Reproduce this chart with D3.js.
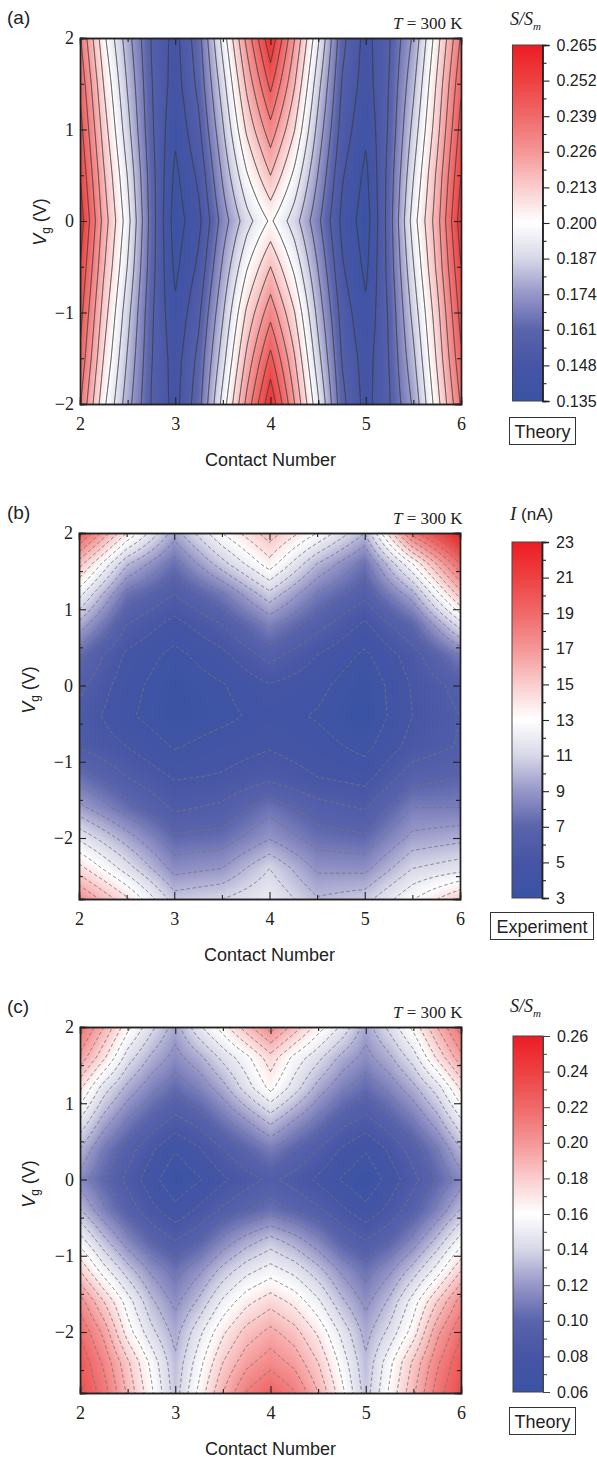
<!DOCTYPE html>
<html>
<head>
<meta charset="utf-8">
<style>
  html, body { margin: 0; padding: 0; background: #fff; }
  svg { display: block; }
  .serif { font-family: "Liberation Serif", serif; }
  .sans { font-family: "Liberation Sans", Arial, sans-serif; }
</style>
<script src="https://cdn.jsdelivr.net/npm/d3@7"></script>
</head>
<body>
<div class="page"></div>
<script>
const contactTicks = [2, 3, 4, 5, 6];
const contactMinor = [2.5, 3.5, 4.5, 5.5];
const vgTicksA = [-2, -1, 0, 1, 2];
const vgMinorA = [-1.5, -0.5, 0.5, 1.5];
const vgTicksB = [-2, -1, 0, 1, 2];
const vgMinorB = [-2.5, -1.5, -0.5, 0.5, 1.5];

// colour map, position 0 = bottom, 1 = top
const colorPos = [0, 0.1, 0.2, 0.3, 0.4, 0.5, 0.6, 0.7, 0.8, 0.9, 1];
const colorVals = ['#3a53a4', '#4655a5', '#5a64ac', '#9696c8', '#d7d7e8', '#ffffff', '#facdcd', '#f59696', '#f06969', '#ee4141', '#ed1c24'];

// panel (a)
const contactsA = [2, 2.25, 2.5, 2.75, 3, 3.25, 3.5, 3.75, 4, 4.25, 4.5, 4.75, 5, 5.25, 5.5, 5.75, 6];
const vgA = [2, 1.5, 1, 0.5, 0, -0.5, -1, -1.5, -2];
const gridA = [
  [.235, .202, .178, .157, .146, .163, .195, .228, .258, .226, .193, .160, .146, .157, .176, .205, .235],
  [.241, .208, .182, .158, .145, .160, .188, .219, .245, .218, .186, .157, .145, .158, .181, .210, .241],
  [.246, .213, .186, .159, .142, .156, .182, .210, .231, .209, .180, .154, .142, .159, .186, .214, .246],
  [.251, .218, .191, .161, .1385, .151, .176, .199, .217, .198, .174, .150, .1385, .161, .191, .219, .251],
  [.256, .222, .195, .162, .136, .147, .170, .188, .2015, .187, .168, .147, .136, .162, .196, .222, .256],
  [.251, .218, .191, .161, .1385, .151, .176, .199, .217, .198, .174, .150, .1385, .161, .191, .219, .251],
  [.246, .213, .186, .159, .142, .156, .182, .210, .231, .209, .180, .154, .142, .159, .186, .214, .246],
  [.241, .208, .182, .158, .145, .160, .188, .219, .245, .218, .186, .157, .145, .158, .181, .210, .241],
  [.235, .202, .178, .157, .146, .163, .195, .228, .258, .226, .193, .160, .146, .157, .176, .205, .235]
];
const levelsA = [.1405, .149, .1575, .166, .1745, .183, .1915, .2, .2085, .217, .2255, .234, .2425, .251, .2595];
const barTicksA = [.135, .148, .161, .174, .187, .2, .213, .226, .239, .252, .265];

// panel (b), experiment
const contactsB = [2, 2.5, 3, 3.5, 4, 4.5, 5, 5.5, 6];
const vgB = [2, 1.6, 1.2, 0.8, 0.4, 0, -0.4, -0.8, -1.2, -1.6, -2, -2.4, -2.8];
const gridB = [
  [19.5, 14, 9.5, 13, 15.6, 13, 10, 18.5, 22.8],
  [15.5, 10.2, 7.5, 10.6, 13.6, 10, 7.6, 13, 19],
  [12.4, 7.6, 6, 7.8, 10.7, 7.9, 6.3, 9.6, 15.5],
  [9.7, 6, 4.6, 6, 8.2, 6.4, 4.8, 7, 11.5],
  [7.3, 4.8, 3.7, 4.7, 6.4, 5, 3.8, 5.5, 8],
  [6.3, 4.4, 3.3, 3.9, 4.9, 4.3, 3.2, 5.1, 6.4],
  [5.7, 4.2, 3.2, 3.7, 4.4, 3.9, 3.1, 5, 6],
  [5.9, 5, 3.9, 4.5, 4.9, 4.4, 3.7, 5.4, 6.1],
  [7.5, 6, 4.9, 5.1, 5.7, 5, 4.6, 6.6, 7],
  [9.3, 7.4, 5.8, 6.2, 7.6, 6.4, 5.9, 8, 8],
  [11.8, 9.5, 7.2, 7.4, 8.9, 7.5, 7.2, 9.3, 9.7],
  [14.4, 11.5, 8.6, 9, 11, 8.8, 8.7, 11, 11.6],
  [17.3, 14.2, 10.5, 11, 12, 10.1, 10.6, 12.9, 15]
];
const levelsB = [4, 5, 6, 7, 8, 9, 10, 11, 12, 13, 14, 15, 16, 17, 18, 19, 20, 21, 22];
const barTicksB = [3, 5, 7, 9, 11, 13, 15, 17, 19, 21, 23];

// panel (c), theory
const contactsC = contactsA;
const vgC = vgB;
const gridC = [
  [.215, .190, .163, .143, .125, .148, .165, .186, .205, .186, .165, .148, .125, .143, .163, .190, .215],
  [.197, .172, .145, .128, .116, .127, .143, .157, .176, .157, .143, .127, .116, .128, .145, .172, .197],
  [.172, .145, .127, .113, .103, .112, .126, .145, .163, .145, .126, .112, .103, .113, .127, .145, .172],
  [.150, .127, .110, .098, .088, .095, .108, .121, .135, .121, .108, .095, .088, .098, .110, .127, .150],
  [.130, .109, .095, .082, .071, .079, .090, .100, .110, .100, .090, .079, .071, .082, .095, .109, .130],
  [.115, .101, .087, .074, .062, .069, .078, .086, .092, .086, .078, .069, .062, .074, .087, .101, .115],
  [.131, .112, .096, .083, .073, .082, .092, .099, .105, .099, .092, .082, .073, .083, .096, .112, .131],
  [.155, .133, .114, .099, .090, .098, .113, .125, .134, .125, .113, .098, .090, .099, .114, .133, .155],
  [.180, .155, .135, .118, .106, .118, .134, .147, .155, .147, .134, .118, .106, .118, .135, .155, .180],
  [.205, .180, .155, .132, .117, .132, .152, .167, .176, .167, .152, .132, .117, .132, .155, .180, .205],
  [.219, .197, .165, .143, .126, .147, .168, .184, .193, .184, .168, .147, .126, .143, .165, .197, .219],
  [.228, .208, .182, .157, .132, .156, .180, .197, .206, .197, .180, .156, .132, .157, .182, .208, .228],
  [.233, .215, .188, .162, .135, .163, .190, .211, .222, .211, .190, .163, .135, .162, .188, .215, .233]
];
const levelsC = [.07, .08, .09, .10, .11, .12, .13, .14, .15, .16, .17, .18, .19, .20, .21, .22, .23];
const barTicksC = [.06, .08, .10, .12, .14, .16, .18, .20, .22, .24, .26];

const svg = d3.select('.page').append('svg').attr('width', 597).attr('height', 1457);
const defs = svg.append('defs');

const colorMap = d3.scaleLinear().domain(colorPos).range(colorVals).interpolate(d3.interpolateRgb);

function midTicks(t) {
  return t.slice(1).map((d, i) => (d + t[i]) / 2);
}

function drawPanel(p) {
  const x = d3.scaleLinear().domain([2, 6]).range([p.left, p.left + p.w]);
  const y = d3.scaleLinear().domain(p.vgDomain).range([p.top, p.top + p.h]);
  const t = d3.scaleLinear().domain([p.barTicks[0], p.barTicks[p.barTicks.length - 1]]).range([0, 1]);

  // grid index lookup, bilinear between the read-off cells
  const ci = d3.scaleLinear().domain(p.contacts).range(d3.range(p.contacts.length)).clamp(true);
  const vi = d3.scaleLinear().domain(p.vg).range(d3.range(p.vg.length)).clamp(true);
  function valueAt(c, v) {
    const a = ci(c), b = vi(v);
    const a0 = Math.floor(a), b0 = Math.floor(b);
    const a1 = Math.min(a0 + 1, p.contacts.length - 1), b1 = Math.min(b0 + 1, p.vg.length - 1);
    const fa = a - a0, fb = b - b0;
    const top = p.grid[b0][a0] * (1 - fa) + p.grid[b0][a1] * fa;
    const bot = p.grid[b1][a0] * (1 - fa) + p.grid[b1][a1] * fa;
    return top * (1 - fb) + bot * fb;
  }

  // heat map
  const canvas = document.createElement('canvas');
  canvas.width = p.w;
  canvas.height = p.h;
  const ctx = canvas.getContext('2d');
  const img = ctx.createImageData(p.w, p.h);
  for (let j = 0; j < p.h; j++) {
    for (let i = 0; i < p.w; i++) {
      const c = d3.rgb(colorMap(t(valueAt(x.invert(p.left + i + 0.5), y.invert(p.top + j + 0.5)))));
      const k = (j * p.w + i) * 4;
      img.data[k] = c.r;
      img.data[k + 1] = c.g;
      img.data[k + 2] = c.b;
      img.data[k + 3] = 255;
    }
  }
  ctx.putImageData(img, 0, 0);
  svg.append('image')
    .attr('x', p.left).attr('y', p.top)
    .attr('width', p.w).attr('height', p.h)
    .attr('href', canvas.toDataURL());

  // contours, padded by a few px and clipped so the box edge is not stroked
  const pad = 3;
  const n = p.w + pad * 2, m = p.h + pad * 2;
  const values = new Float64Array(n * m);
  for (let j = 0; j < m; j++) {
    for (let i = 0; i < n; i++) {
      values[j * n + i] = valueAt(x.invert(p.left + i - pad + 0.5), y.invert(p.top + j - pad + 0.5));
    }
  }
  const contours = d3.contours().size([n, m]).thresholds(p.levels)(values);
  defs.append('clipPath').attr('id', 'clip-' + p.name)
    .append('rect').attr('x', p.left).attr('y', p.top).attr('width', p.w).attr('height', p.h);
  svg.append('g').attr('clip-path', 'url(#clip-' + p.name + ')')
    .append('g').attr('transform', `translate(${p.left - pad},${p.top - pad})`)
    .selectAll('path').data(contours).join('path')
    .attr('d', d3.geoPath())
    .attr('fill', 'none')
    .attr('stroke', p.lineColor)
    .attr('stroke-width', p.lineWidth)
    .attr('stroke-dasharray', p.dash);

  // frame and ticks
  const bottom = svg.append('g').attr('transform', `translate(0,${p.top + p.h})`);
  bottom.append('g').call(d3.axisBottom(x).tickValues(contactTicks).tickSize(-7).tickPadding(13).tickFormat(d3.format('d')));
  bottom.append('g').call(d3.axisBottom(x).tickValues(contactMinor).tickSize(-4).tickFormat(''));
  const topAxis = svg.append('g').attr('transform', `translate(0,${p.top})`);
  topAxis.append('g').call(d3.axisTop(x).tickValues(contactTicks).tickSize(-7).tickFormat(''));
  topAxis.append('g').call(d3.axisTop(x).tickValues(contactMinor).tickSize(-4).tickFormat(''));
  const leftAxis = svg.append('g').attr('transform', `translate(${p.left},0)`);
  leftAxis.append('g').call(d3.axisLeft(y).tickValues(p.vgTicks).tickSize(-7).tickPadding(6).tickFormat(d => (d < 0 ? '\u2212' + (-d) : d)));
  leftAxis.append('g').call(d3.axisLeft(y).tickValues(p.vgMinor).tickSize(-4).tickFormat(''));
  const rightAxis = svg.append('g').attr('transform', `translate(${p.left + p.w},0)`);
  rightAxis.append('g').call(d3.axisRight(y).tickValues(p.vgTicks).tickSize(-7).tickFormat(''));
  rightAxis.append('g').call(d3.axisRight(y).tickValues(p.vgMinor).tickSize(-4).tickFormat(''));
  svg.selectAll('.domain').attr('stroke', '#222').attr('stroke-width', 1.4);
  svg.selectAll('.tick line').attr('stroke', '#222').attr('stroke-width', 1.1);
  bottom.selectAll('text').attr('class', 'serif').attr('font-size', 18).attr('fill', '#222').attr('font-family', null);
  leftAxis.selectAll('text').attr('class', 'serif').attr('font-size', 18).attr('fill', '#222').attr('font-family', null);

  // texts
  svg.append('text').attr('class', 'sans').attr('x', 7).attr('y', p.top - 14)
    .attr('font-size', 19).attr('fill', '#222').text(p.tag);
  const tl = svg.append('text').attr('class', 'serif').attr('x', 393).attr('y', p.top - 9)
    .attr('font-size', 17).attr('fill', '#222');
  tl.append('tspan').attr('font-style', 'italic').text('T');
  tl.append('tspan').text(' = 300 K');
  svg.append('text').attr('class', 'sans').attr('x', p.left + p.w / 2).attr('y', p.top + p.h + 62)
    .attr('text-anchor', 'middle').attr('font-size', 18).attr('fill', '#222').text('Contact Number');
  const vl = svg.append('text').attr('class', 'sans')
    .attr('transform', `translate(${p.vgLabelX},${p.top + p.vgLabelDy}) rotate(-90)`)
    .attr('text-anchor', 'middle').attr('font-size', 18).attr('fill', '#222');
  vl.append('tspan').attr('font-style', 'italic').text('V');
  vl.append('tspan').attr('font-size', 12).attr('dy', 4).text('g');
  vl.append('tspan').attr('dy', -4).text(' (V)');

  // colour bar
  const bar = d3.scaleLinear().domain(t.domain()).range([p.barBottom, p.barTop]);
  const grad = defs.append('linearGradient').attr('id', 'grad-' + p.name)
    .attr('x1', 0).attr('y1', 1).attr('x2', 0).attr('y2', 0);
  grad.selectAll('stop').data(colorPos).join('stop')
    .attr('offset', d => d)
    .attr('stop-color', (d, i) => colorVals[i]);
  svg.append('rect').attr('x', p.barLeft).attr('y', p.barTop)
    .attr('width', 30).attr('height', p.barBottom - p.barTop)
    .attr('fill', 'url(#grad-' + p.name + ')')
    .attr('stroke', '#444').attr('stroke-width', 1);
  const barAxis = svg.append('g').attr('transform', `translate(${p.barLeft + 30},0)`);
  barAxis.append('g').call(d3.axisRight(bar).tickValues(p.barTicks).tickSize(7).tickPadding(7).tickFormat(d3.format(p.barFormat)));
  barAxis.append('g').call(d3.axisRight(bar).tickValues(midTicks(p.barTicks)).tickSize(4).tickFormat(''));
  barAxis.selectAll('.domain').attr('stroke', '#444').attr('stroke-width', 1);
  barAxis.selectAll('.tick line').attr('stroke', '#444').attr('stroke-width', 1);
  barAxis.selectAll('text').attr('class', 'sans').attr('font-size', 16).attr('fill', '#222').attr('font-family', null);

  const bl = svg.append('text').attr('x', 510).attr('y', p.barLabelY).attr('fill', '#222');
  if (p.name === 'b') {
    bl.attr('class', 'sans').attr('font-size', 17);
    bl.append('tspan').attr('class', 'serif').attr('font-style', 'italic').attr('font-size', 19).text('I');
    bl.append('tspan').text(' (nA)');
  } else {
    bl.attr('class', 'serif').attr('font-style', 'italic').attr('font-size', 18);
    bl.append('tspan').text('S/S');
    bl.append('tspan').attr('font-size', 11).attr('dy', 5).text('m');
  }

  svg.append('rect').attr('x', p.boxX).attr('y', p.boxY).attr('width', p.boxW).attr('height', 27)
    .attr('fill', 'none').attr('stroke', '#333').attr('stroke-width', 1);
  svg.append('text').attr('class', 'sans').attr('x', p.boxX + p.boxW / 2).attr('y', p.boxY + 20)
    .attr('text-anchor', 'middle').attr('font-size', 18).attr('fill', '#222').text(p.boxText);
}

drawPanel({
  name: 'a', tag: '(a)', left: 80, top: 38, w: 381, h: 366,
  vgDomain: [2, -2], vgTicks: vgTicksA, vgMinor: vgMinorA,
  contacts: contactsA, vg: vgA, grid: gridA, levels: levelsA,
  lineColor: '#3c3c3c', lineWidth: 1, dash: null,
  vgLabelX: 46, vgLabelDy: 184,
  barTicks: barTicksA, barFormat: '.3f', barLeft: 512.5, barTop: 45, barBottom: 401, barLabelY: 25,
  boxX: 509.5, boxY: 417.5, boxW: 66, boxText: 'Theory'
});
drawPanel({
  name: 'b', tag: '(b)', left: 79, top: 533, w: 381, h: 366,
  vgDomain: [2, -2.8], vgTicks: vgTicksB, vgMinor: vgMinorB,
  contacts: contactsB, vg: vgB, grid: gridB, levels: levelsB,
  lineColor: '#777', lineWidth: 1, dash: '3.5,2.5',
  vgLabelX: 35, vgLabelDy: 157,
  barTicks: barTicksB, barFormat: 'd', barLeft: 512, barTop: 542, barBottom: 898, barLabelY: 520,
  boxX: 490.5, boxY: 912.5, boxW: 103, boxText: 'Experiment'
});
drawPanel({
  name: 'c', tag: '(c)', left: 80, top: 1027, w: 381, h: 366,
  vgDomain: [2, -2.8], vgTicks: vgTicksB, vgMinor: vgMinorB,
  contacts: contactsC, vg: vgC, grid: gridC, levels: levelsC,
  lineColor: '#777', lineWidth: 1, dash: '3.5,2.5',
  vgLabelX: 35, vgLabelDy: 157,
  barTicks: barTicksC, barFormat: '.2f', barLeft: 513, barTop: 1036, barBottom: 1392, barLabelY: 1012,
  boxX: 509.5, boxY: 1407.5, boxW: 66, boxText: 'Theory'
});
</script>
</body>
</html>
